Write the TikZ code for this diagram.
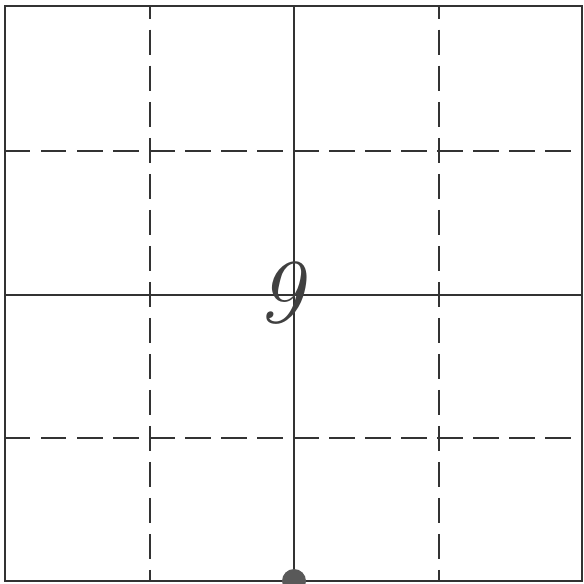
\documentclass[tikz,border=0pt]{standalone}
\usepackage{fontspec}
\usepackage{tikz}
\usetikzlibrary{calc}
\tikzset{
    frame/.style={line width=1.2pt,black!80},
    midline/.style={line width=0.8pt,black!80},
    quarterline/.style={line width=0.8pt,black!80,dash pattern=on 14.5pt off 6pt}
}
\begin{document}
\begin{tikzpicture}[x=0.02cm,y=-0.02cm]
\useasboundingbox (0,0) rectangle (583,584);
\clip (0,0) rectangle (583,584);
%\draw [help lines](0,0) grid (583,584);
\coordinate (NW) at (5,6);
\coordinate (SE) at (582,581);
\coordinate (Ntop) at (294,6);
\coordinate (Nbot) at (294,581);
\coordinate (Wmid) at (5,295);
\coordinate (Emid) at (582,295);
\coordinate (Q1top) at (150,6);
\coordinate (Q1bot) at (150,581);
\coordinate (Q3top) at (439,6);
\coordinate (Q3bot) at (439,581);
\coordinate (Wq1) at (5,151);
\coordinate (Eq1) at (582,151);
\coordinate (Wq3) at (5,438);
\coordinate (Eq3) at (582,438);
\draw [quarterline,dash phase=7pt] (Q1top) -- (Q1bot);
\draw [quarterline,dash phase=7pt] (Q3top) -- (Q3bot);
\draw [quarterline] (Wq1) -- (Eq1);
\draw [quarterline] (Wq3) -- (Eq3);
\draw [midline] (Ntop) -- (Nbot);
\draw [midline] (Wmid) -- (Emid);
\draw [frame] (NW) rectangle (SE);
\node [font=\itshape\fontsize{52}{52}\selectfont,text=black!75] (nine) at (280,293) {9};
\fill [black!65] (Nbot) circle [radius=12];
\end{tikzpicture}
\end{document}
